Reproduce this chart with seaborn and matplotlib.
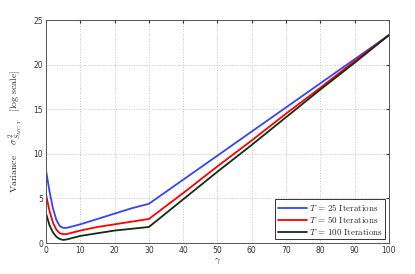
import numpy as np
import pandas as pd
import seaborn as sns
import matplotlib.pyplot as plt

gamma = [0, 1, 2, 3, 4, 5, 6, 8, 10, 15, 20, 25, 30, 40, 50, 60, 70, 80, 90, 100]
var_t25 = [8.1, 5.8, 3.9, 2.6, 1.9, 1.7, 1.7, 1.9, 2.1, 2.7, 3.3, 3.9, 4.4,
           7.1, 9.8, 12.5, 15.2, 17.9, 20.6, 23.3]
var_t50 = [5.4, 3.6, 2.3, 1.5, 1.1, 1.0, 1.0, 1.2, 1.4, 1.8, 2.1, 2.4, 2.7,
           5.6, 8.6, 11.5, 14.5, 17.4, 20.4, 23.3]
var_t100 = [3.3, 2.0, 1.2, 0.7, 0.45, 0.35, 0.4, 0.6, 0.8, 1.1, 1.4, 1.6, 1.8,
            4.9, 8.0, 11.0, 14.1, 17.2, 20.2, 23.3]
labels = [r"$T\,=\,25\ \mathrm{Iterations}$",
          r"$T\,=\,50\ \mathrm{Iterations}$",
          r"$T\,=\,100\ \mathrm{Iterations}$"]
colors = ["#3344ff", "#ff0000", "#0f2e12"]

df = pd.concat([
    pd.DataFrame({"gamma": gamma, "var": v, "series": lab})
    for v, lab in zip([var_t25, var_t50, var_t100], labels)
])

sns.set_style("white")
plt.rcParams["mathtext.fontset"] = "cm"

fig = plt.figure(figsize=(4.15, 2.74), dpi=100)
ax = fig.add_axes([0.111, 0.113, 0.826, 0.814])
sns.lineplot(data=df, x="gamma", y="var", hue="series", palette=colors,
             linewidth=1.3, ax=ax)

ax.set_xlim(0, 100)
ax.set_ylim(0, 25)
ax.set_xticks(range(0, 101, 10))
ax.set_yticks(range(0, 26, 5))
ax.tick_params(labelsize=5.5, length=2, direction="in", colors="#333333", pad=2,
               top=True, right=True)
ax.grid(True, linestyle=":", color="#c4c4c4", linewidth=0.7)
for s in ax.spines.values():
    s.set_color("#555555")
    s.set_linewidth(0.7)

ax.set_xlabel(r"$\gamma$", fontsize=7, labelpad=1)
ax.set_ylabel(r"$\mathrm{Variance}\quad\ \sigma^2_{\hat{S}_{MC,T}}\quad [\mathrm{log\ scale}]$",
              fontsize=7, labelpad=6)

leg = ax.legend(loc="lower right", fontsize=6.5, frameon=True, fancybox=False,
                edgecolor="black", handlelength=3.2, handletextpad=0.2,
                borderpad=0.3, labelspacing=0.15, borderaxespad=0.4)
leg.get_frame().set_linewidth(0.7)
leg.set_title(None)

fig.savefig("out.png", dpi=100)
